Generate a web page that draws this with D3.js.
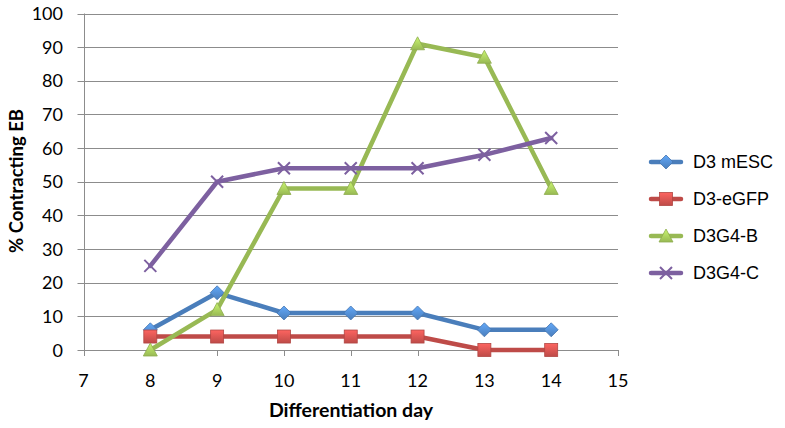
<!DOCTYPE html>
<html><head><meta charset="utf-8">
<script src="https://cdn.jsdelivr.net/npm/d3@7"></script>
<style>body{margin:0;background:#fff}</style>
</head><body><svg id="c" width="785" height="428"></svg>
<script>
const days = [8, 9, 10, 11, 12, 13, 14];
const seriesNames = ["D3 mESC", "D3-eGFP", "D3G4-B", "D3G4-C"];
const mESC = [6, 17, 11, 11, 11, 6, 6];
const eGFP = [4, 4, 4, 4, 4, 0, 0];
const g4B = [0, 12, 48, 48, 91, 87, 48];
const g4C = [25, 50, 54, 54, 54, 58, 63];
const xTicks = [7, 8, 9, 10, 11, 12, 13, 14, 15];
const yTicks = [0, 10, 20, 30, 40, 50, 60, 70, 80, 90, 100];
const colors = ["#4A7EBB", "#BE4B48", "#98B954", "#7D60A0"];
const markers = ["diamond", "square", "triangle", "x"];
const seriesVals = [mESC, eGFP, g4B, g4C];

const svg = d3.select("#c");
const x = d3.scaleLinear().domain([7, 15]).range([83.5, 618]);
const y = d3.scaleLinear().domain([0, 100]).range([350, 13.5]);
const font = "Lato, 'Open Sans', sans-serif";

// gridlines
svg.append("g").selectAll("line").data(yTicks).join("line")
  .attr("x1", x(7) - 6).attr("x2", x(15))
  .attr("y1", d => Math.round(y(d)) + 0.5).attr("y2", d => Math.round(y(d)) + 0.5)
  .attr("stroke", "#8c8c8c").attr("stroke-width", 1);

// y axis line
svg.append("line").attr("x1", Math.round(x(7)) + 0.5).attr("x2", Math.round(x(7)) + 0.5)
  .attr("y1", y(100)).attr("y2", y(0) + 6).attr("stroke", "#8c8c8c");
// x ticks
svg.append("g").selectAll("line").data(xTicks).join("line")
  .attr("x1", d => Math.round(x(d)) + 0.5).attr("x2", d => Math.round(x(d)) + 0.5)
  .attr("y1", y(0)).attr("y2", y(0) + 6).attr("stroke", "#8c8c8c");

// tick labels
svg.append("g").selectAll("text").data(yTicks).join("text")
  .attr("x", 63).attr("y", d => y(d) + 6.5).attr("text-anchor", "end")
  .attr("font-family", font).attr("font-size", 18).attr("fill", "#000").text(d => d);
svg.append("g").selectAll("text").data(xTicks).join("text")
  .attr("x", d => x(d)).attr("y", 387).attr("text-anchor", "middle")
  .attr("font-family", font).attr("font-size", 18).attr("fill", "#000").text(d => d);

// axis titles
svg.append("text").attr("x", 351).attr("y", 417).attr("text-anchor", "middle")
  .attr("font-family", font).attr("font-weight", "bold").attr("font-size", 19.5).text("Differentiation day");
svg.append("text").attr("transform", "translate(23,181) rotate(-90)").attr("text-anchor", "middle")
  .attr("font-family", font).attr("font-weight", "bold").attr("font-size", 18.5).text("% Contracting EB");

// gradients
const defs = svg.append("defs");
colors.forEach((c, i) => {
  const g = defs.append("linearGradient").attr("id", "g" + i).attr("x1", 0).attr("y1", 0).attr("x2", 0).attr("y2", 1);
  g.append("stop").attr("offset", 0).attr("stop-color", d3.color(c).brighter(0.8));
  g.append("stop").attr("offset", 1).attr("stop-color", c);
});

function drawMarker(sel, type, i, cx, cy) {
  const c = colors[i];
  if (type === "diamond") {
    sel.append("path").attr("d", `M${cx},${cy-7}L${cx+7},${cy}L${cx},${cy+7}L${cx-7},${cy}Z`)
      .attr("fill", `url(#g${i})`).attr("stroke", d3.color(c).darker(0.2)).attr("stroke-width", 0.8);
  } else if (type === "square") {
    sel.append("rect").attr("x", cx - 6.5).attr("y", cy - 6.5).attr("width", 13).attr("height", 13)
      .attr("fill", `url(#g${i})`).attr("stroke", d3.color(c).darker(0.2)).attr("stroke-width", 0.8);
  } else if (type === "triangle") {
    sel.append("path").attr("d", `M${cx},${cy-7}L${cx+7},${cy+6}L${cx-7},${cy+6}Z`)
      .attr("fill", `url(#g${i})`).attr("stroke", d3.color(c).darker(0.2)).attr("stroke-width", 0.8);
  } else {
    sel.append("path").attr("d", `M${cx-6},${cy-6}L${cx+6},${cy+6}M${cx+6},${cy-6}L${cx-6},${cy+6}`)
      .attr("stroke", c).attr("stroke-width", 2);
  }
}

const line = d3.line().x((d, i) => x(days[i])).y(d => y(d));
seriesVals.forEach((vals, i) => {
  const g = svg.append("g");
  g.append("path").attr("d", line(vals)).attr("fill", "none")
    .attr("stroke", colors[i]).attr("stroke-width", 4.5).attr("stroke-linejoin", "round").attr("stroke-linecap", "round");
  vals.forEach((v, j) => drawMarker(g, markers[i], i, x(days[j]), y(v)));
});

// legend
const lg = svg.append("g");
seriesNames.forEach((n, i) => {
  const ly = 162 + i * 37;
  lg.append("line").attr("x1", 651).attr("x2", 681).attr("y1", ly).attr("y2", ly)
    .attr("stroke", colors[i]).attr("stroke-width", 4.5).attr("stroke-linecap", "round");
  drawMarker(lg, markers[i], i, 666, ly);
  lg.append("text").attr("x", 693).attr("y", ly + 6).attr("font-family", "'Liberation Sans', Arial, sans-serif")
    .attr("font-size", 18).attr("fill", "#000").text(n);
});
</script></body></html>
